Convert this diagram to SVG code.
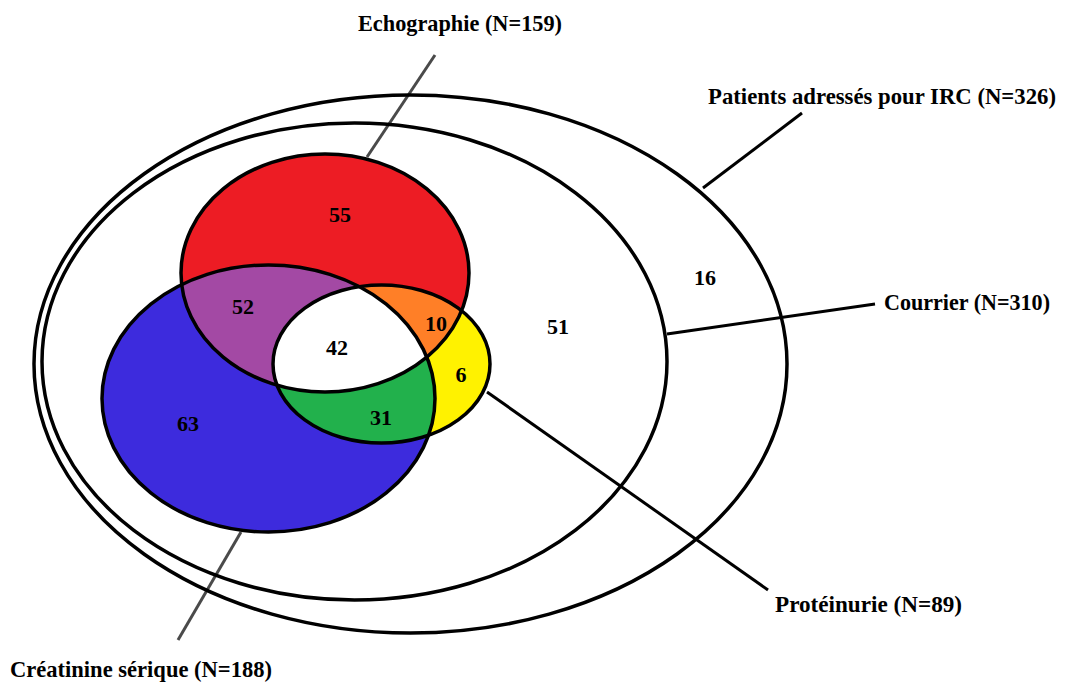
<svg xmlns="http://www.w3.org/2000/svg" width="1066" height="684" viewBox="0 0 1066 684">
<style>
.o{fill:none;stroke:#000;stroke-width:3.5}
.l{stroke:#000;stroke-width:3;fill:none}
.g{stroke:#4a4a4a;stroke-width:3;fill:none}
.t{font-family:"Liberation Serif","Times New Roman",serif;font-weight:bold;font-size:23px;fill:#000}
.n{font-family:"Liberation Serif","Times New Roman",serif;font-weight:bold;font-size:22px;fill:#000;text-anchor:middle}
</style>
<defs>
<ellipse id="eR" cx="325" cy="273" rx="144" ry="119"/>
<ellipse id="eB" cx="268.5" cy="398.5" rx="166.5" ry="133.5"/>
<ellipse id="eY" cx="381.5" cy="364" rx="108.5" ry="79"/>
<clipPath id="cR"><use href="#eR"/></clipPath>
<clipPath id="cB"><use href="#eB"/></clipPath>
</defs>
<rect width="1066" height="684" fill="#fff"/>
<g id="connectors">
<line class="g" x1="435" y1="55" x2="367" y2="157"/>
<line class="g" x1="241" y1="532" x2="178" y2="640"/>
<line class="l" x1="703" y1="188" x2="802" y2="113"/>
<line class="l" x1="667" y1="334" x2="875" y2="304"/>
<line class="l" x1="487" y1="392" x2="768" y2="590"/>
</g>
<g id="patients">
<ellipse class="o" cx="410.5" cy="364" rx="376.5" ry="269"/>
<text class="t" x="708" y="104" style="font-size:22.5px" textLength="348" lengthAdjust="spacingAndGlyphs">Patients adressés pour IRC (N=326)</text>
<text class="n" x="705" y="285">16</text>
</g>
<g id="courrier">
<ellipse class="o" cx="354.5" cy="361.5" rx="312.5" ry="238.5"/>
<text class="t" x="884" y="310" textLength="166" lengthAdjust="spacingAndGlyphs">Courrier (N=310)</text>
<text class="n" x="558" y="334">51</text>
</g>
<g id="fills">
<use href="#eB" fill="#3D2BDD"/>
<use href="#eR" fill="#ED1C24"/>
<use href="#eB" fill="#A349A4" clip-path="url(#cR)"/>
<use href="#eY" fill="#FFF200"/>
<use href="#eY" fill="#FF7F27" clip-path="url(#cR)"/>
<use href="#eY" fill="#22B14C" clip-path="url(#cB)"/>
<g clip-path="url(#cB)"><use href="#eY" fill="#fff" clip-path="url(#cR)"/></g>
</g>
<g id="creatinine">
<use href="#eB" class="o"/>
<text class="t" x="10" y="677" textLength="262" lengthAdjust="spacingAndGlyphs">Créatinine sérique (N=188)</text>
<text class="n" x="188" y="431">63</text>
</g>
<g id="echographie">
<use href="#eR" class="o"/>
<text class="t" x="358" y="31" textLength="204" lengthAdjust="spacingAndGlyphs">Echographie (N=159)</text>
<text class="n" x="340" y="222">55</text>
</g>
<g id="proteinurie">
<use href="#eY" class="o"/>
<text class="t" x="775" y="612" textLength="187" lengthAdjust="spacingAndGlyphs">Protéinurie (N=89)</text>
</g>
<g id="intersections">
<text class="n" x="243" y="314">52</text>
<text class="n" x="436" y="331">10</text>
<text class="n" x="337" y="355">42</text>
<text class="n" x="461" y="382">6</text>
<text class="n" x="381" y="425">31</text>
</g>
</svg>
